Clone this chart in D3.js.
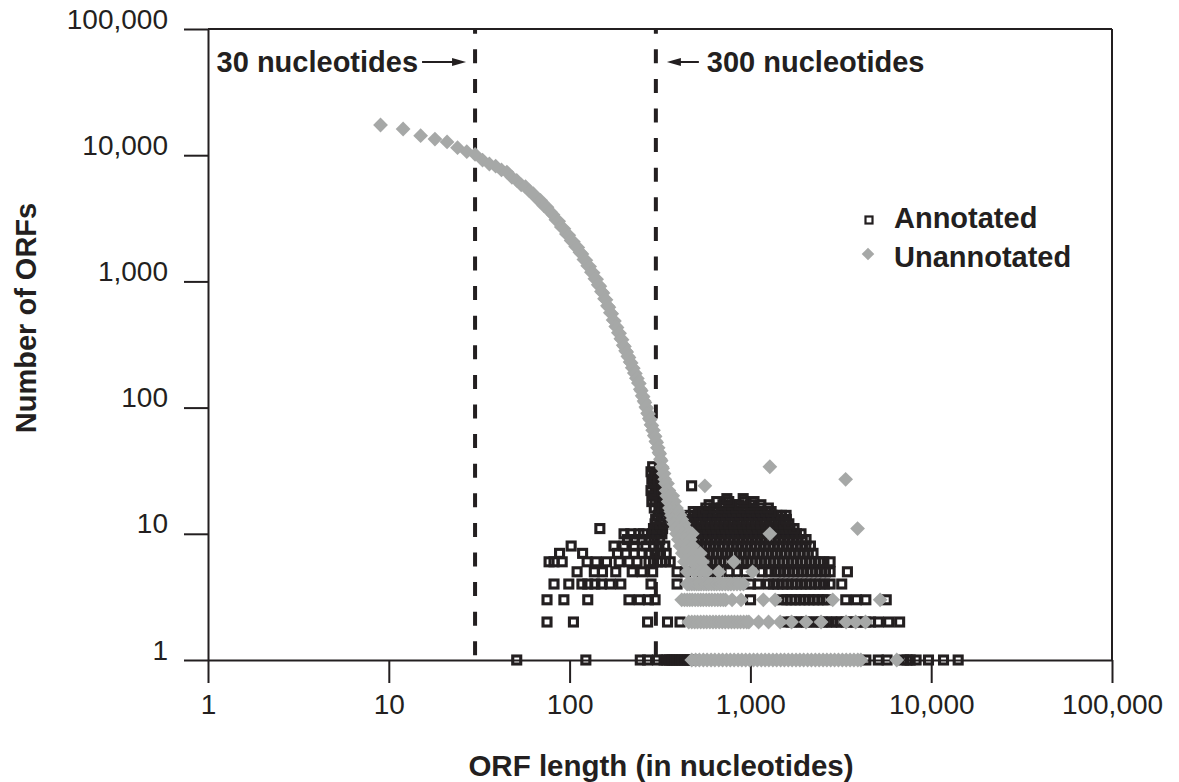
<!DOCTYPE html>
<html><head><meta charset="utf-8">
<script src="https://cdn.jsdelivr.net/npm/d3@7"></script>
<style>
body{margin:0;background:#fff}
svg{display:block}
text{font-family:"Liberation Sans",Arial,Helvetica,sans-serif}
</style>
</head><body>
<svg id="chart" width="1179" height="782"></svg>
<script>
// ---------------- data ----------------
const xTicks = [1, 10, 100, 1000, 10000, 100000];
const yTicks = [1, 10, 100, 1000, 10000, 100000];
const cutoffs = [30, 300];
const cutoffLabels = ["30 nucleotides", "300 nucleotides"];
const seriesNames = ["Annotated", "Unannotated"];
const xTitle = "ORF length (in nucleotides)";
const yTitle = "Number of ORFs";

// Unannotated ORFs: main falling curve (length, count)
const unannotatedCurveLen = [9,12,15,18,21,24,27,30,33,36,39,42,45,48,51,54,57,60,63,66,69,72,75,78,81,84,87,90,93,96,99,102,105,108,111,114,117,120,123,126,129,132,135,138,141,144,147,150,153,156,159,162,165,168,171,174,177,180,183,186,189,192,195,198,201,204,207,210,213,216,219,222,225,228,231,234,237,240,243,246,249,252,255,258,261,264,267,270,273,276,279,282,285,288,291,294,297,300,303,306,309,312,315,318,321,324,327,330];
const unannotatedCurveCount = [17350,16130,14280,13430,12730,11470,10660,10160,9150,8520,8180,7640,7350,6680,6310,5820,5640,5190,4960,4540,4390,3980,3870,3560,3380,3080,2990,2700,2610,2380,2320,2110,2060,1890,1860,1700,1650,1490,1470,1330,1310,1180,1170,1050,1040,940,915,830,810,730,715,640,625,565,555,495,485,440,432,392,388,352,345,312,305,282,276,255,250,230,226,207,205,188,186,171,170,157,155,140,136,124,122,113,110,101,99,90,89,82,80,73,72,66,66,60,59,54,53,48,48,44,43,39,38,34,33,30];
// Unannotated: scattered tail past 330 nt and outliers [length, count]
const unannotatedTail = [[333,30],[336,27],[339,25],[348,25],[342,22],[354,22],[345,20],[360,20],[372,20],[351,18],[366,18],[381,18],[357,16],[372,16],[390,16],[363,15],[381,15],[399,15],[366,14],[387,14],[408,14],[372,13],[396,13],[417,13],[378,12],[405,12],[429,12],[384,11],[414,11],[441,11],[390,10],[423,10],[453,10],[477,10],[399,9],[435,9],[465,9],[408,8],[447,8],[480,8],[420,7],[459,7],[495,7],[528,7],[432,6],[474,6],[510,6],[543,6],[447,5],[489,5],[528,5],[561,5],[560,24],[1281,34],[3363,27],[3915,11],[1281,10],[810,6],[573,5],[669,5],[1029,5]];
// Unannotated: lengths seen with exactly 4, 3, 2 and 1 ORFs
const unannotatedRow4 = [447,459,474,489,504,519,534,552,570,588,609,630,651,675,699,726,753,780,810,843,879,915];
const unannotatedRow3 = [417,432,447,462,477,495,513,531,549,570,591,612,636,660,684,708,729,792,888,1179,1371,2853,5220];
const unannotatedRow2 = [456,474,492,510,531,552,573,597,621,645,672,699,726,756,786,816,849,882,918,954,981,1110,1260,1461,1689,2031,2460,3381,3822,4332];
const unannotatedRow1 = [474,498,522,549,576,606,636,669,702,738,774,813,855,897,942,990,1041,1092,1149,1206,1266,1332,1398,1470,1542,1620,1701,1788,1878,1971,2073,2175,2286,2400,2523,2649,2781,2922,3069,3225,3387,3558,3738,3927,4083,6450];

// Annotated ORFs: lengths seen with exactly N ORFs (N = 1..14)
const annotatedRow1 = [51,123,246,270,306,333,345,357,369,381,393,408,420,435,450,465,480,4350,5100,5700,7050,7350,7650,8250,9660,11700,14100];
const annotatedRow2 = [75,105,270,348,408,1560,1680,1800,1920,2040,2190,2340,2490,2640,2820,3000,3180,3390,3600,3840,4080,4350,4620,5100,5820,6690];
const annotatedRow3 = [75,93,126,213,243,273,297,1002,1500,1590,1680,1770,1880,1990,2110,2240,2370,2520,2670,3370,3860,4350,5640];
const annotatedRow4 = [82,99,117,126,138,150,168,192,282,393,1002,1101,1260,1340,1420,1510,1600,1700,1800,1910,2030,2150,2280,2420,2570,2760,3200];
const annotatedRow5 = [110,137,152,180,222,252,288,393,438,540,600,660,762,843,939,1161,1260,1370,1450,1540,1630,1730,1830,1940,2060,2180,2310,2450,2600,2760,3440];
const annotatedRow6 = [77,82,91,125,140,160,188,213,236,275,291,306,321,339,360,540,573,606,642,681,720,762,807,855,906,960,1017,1077,1140,1209,1281,1356,1437,1521,1611,1707,1809,1917,2028,2148,2277,2412,2550,2760];
const annotatedRow7 = [88,118,184,205,228,252,275,297,318,342,522,552,585,621,657,696,738,783,828,879,930,987,1044,1107,1173,1242,1317,1395,1479,1566,1659,1758,1863,1974,2091,2220];
const annotatedRow8 = [102,176,200,228,264,291,312,336,501,531,564,597,633,672,711,753,798,846,897,951,1008,1068,1131,1200,1272,1347,1428,1512,1605,1701,1803,1911,2025,2148];
const annotatedRow9 = [209,228,252,275,294,315,480,510,540,573,606,642,681,723,765,810,858,909,963,1020,1080,1146,1215,1287,1365,1446,1533,1626,1722,1827,1935,2031];
const annotatedRow10 = [200,218,242,256,288,303,324,471,498,528,561,594,630,669,708,750,795,843,894,948,1005,1065,1128,1197,1269,1344,1425,1509,1599,1695,1797,1905];
const annotatedRow11 = [147,291,306,327,462,489,519,549,582,618,654,693,735,780,825,876,927,984,1041,1104,1170,1242,1317,1395,1479,1566,1659,1743];
const annotatedRow12 = [297,315,333,453,480,510,540,573,606,642,681,723,765,810,861,912,966,1023,1086,1152,1221,1293,1371,1452,1539,1632];
const annotatedRow13 = [300,321,450,477,507,537,570,603,639,678,720,762,807,855,906,960,1017,1080,1146,1212,1287,1362,1443,1530,1581];
const annotatedRow14 = [309,327,459,489,519,552,585,621,657,696,738,783,831,879,933,987,1047,1110,1176,1248,1323,1401,1485,1575];
// Annotated: higher counts [length, count]
const annotatedScatter = [[312,15],[336,15],[483,15],[516,15],[549,15],[585,15],[624,15],[663,15],[705,15],[750,15],[798,15],[849,15],[903,15],[960,15],[1020,15],[1086,15],[1152,15],[1224,15],[1302,15],
[315,16],[339,16],[567,16],[630,16],[690,16],[762,16],[837,16],[918,16],[1014,16],[1131,16],[1257,16],
[324,17],[591,17],[705,17],[795,17],[867,17],[1002,17],[1143,17],
[297,18],[651,18],[759,18],[921,18],[1047,18],[741,19],[912,19],
[282,31],[285,27],[288,34],[291,25],[294,28],[297,22],[300,30],[303,24],[306,20],[309,26],[312,19],[315,22],[318,17],[321,20],[324,14],[288,20],[294,16],[300,13],[282,22],[285,18],[473,24]];

// ---------------- build point lists ----------------
const annotatedRows = [annotatedRow1,annotatedRow2,annotatedRow3,annotatedRow4,annotatedRow5,annotatedRow6,annotatedRow7,annotatedRow8,annotatedRow9,annotatedRow10,annotatedRow11,annotatedRow12,annotatedRow13,annotatedRow14];
const annotated = [];
annotatedRows.forEach((row, i) => row.forEach(len => annotated.push({len, count: i + 1})));
annotatedScatter.forEach(([len, count]) => annotated.push({len, count}));

const unannotated = [];
unannotatedCurveLen.forEach((len, i) => unannotated.push({len, count: unannotatedCurveCount[i]}));
unannotatedTail.forEach(([len, count]) => unannotated.push({len, count}));
[[4, unannotatedRow4],[3, unannotatedRow3],[2, unannotatedRow2],[1, unannotatedRow1]].forEach(([c, row]) => row.forEach(len => unannotated.push({len, count: c})));

// ---------------- drawing ----------------
const INK = "#231f20", GRAY = "#a6a8a7";
const svg = d3.select("#chart");
const x = d3.scaleLog().domain([1, 100000]).range([208, 1112]);
const y = d3.scaleLog().domain([1, 100000]).range([660, 29]);

// frame: top and right
svg.append("line").attr("x1", x(1)).attr("x2", x(100000)).attr("y1", y(100000)).attr("y2", y(100000))
  .attr("stroke", INK).attr("stroke-width", 2);
svg.append("line").attr("x1", x(100000)).attr("x2", x(100000)).attr("y1", y(100000)).attr("y2", y(1))
  .attr("stroke", INK).attr("stroke-width", 2);

// x axis
const gx = svg.append("g").attr("transform", `translate(0,${y(1)})`)
  .call(d3.axisBottom(x).tickValues(xTicks).tickSize(23).tickSizeOuter(0).tickFormat(d3.format(",")));
gx.attr("font-family", null).attr("font-size", null).attr("color", INK);
gx.select(".domain").attr("stroke-width", 2);
gx.selectAll(".tick line").attr("stroke-width", 2);
gx.selectAll(".tick text").attr("y", 54).attr("dy", 0).attr("font-size", 28).attr("fill", INK);

// y axis
const gy = svg.append("g").attr("transform", `translate(${x(1)},0)`)
  .call(d3.axisLeft(y).tickValues(yTicks).tickSize(24).tickSizeOuter(0).tickFormat(d3.format(",")));
gy.attr("font-family", null).attr("font-size", null).attr("color", INK);
gy.select(".domain").attr("stroke-width", 2);
gy.selectAll(".tick line").attr("stroke-width", 2);
gy.selectAll(".tick text").attr("x", -40).attr("dy", 0).attr("y", -1).attr("font-size", 28).attr("fill", INK);

// cutoff dashed lines
svg.selectAll("line.cut").data(cutoffs).join("line").attr("class", "cut")
  .attr("x1", d => x(d)).attr("x2", d => x(d))
  .attr("y1", y(100000)).attr("y2", y(1))
  .attr("stroke", INK).attr("stroke-width", 4)
  .attr("stroke-dasharray", "14,15.6").attr("stroke-dashoffset", 9.3);

// points: annotated squares (under), unannotated diamonds (over)
const sq = 8;
svg.append("g").selectAll("rect").data(annotated).join("rect")
  .attr("x", d => x(d.len) - sq / 2).attr("y", d => y(d.count) - sq / 2)
  .attr("width", sq).attr("height", sq)
  .attr("fill", "none").attr("stroke", INK).attr("stroke-width", 3.1);

const diamond = "M0,-7.4L7.4,0L0,7.4L-7.4,0Z";
svg.append("g").selectAll("path").data(unannotated).join("path")
  .attr("d", diamond)
  .attr("transform", d => `translate(${x(d.len)},${y(d.count)})`)
  .attr("fill", GRAY);

// cutoff annotations
function arrow(x0, x1, yy) {
  const dir = Math.sign(x1 - x0);
  svg.append("line").attr("x1", x0).attr("x2", x1 - dir * 10).attr("y1", yy).attr("y2", yy)
    .attr("stroke", INK).attr("stroke-width", 2);
  svg.append("path")
    .attr("d", `M${x1},${yy}L${x1 - dir * 14},${yy - 4}L${x1 - dir * 14},${yy + 4}Z`)
    .attr("fill", INK);
}
svg.append("text").attr("x", x(cutoffs[0]) - 57).attr("y", 72).attr("text-anchor", "end")
  .attr("font-size", 29).attr("font-weight", "bold").attr("fill", INK).text(cutoffLabels[0]);
arrow(x(cutoffs[0]) - 53, x(cutoffs[0]) - 9, 62);
svg.append("text").attr("x", x(cutoffs[1]) + 51).attr("y", 72)
  .attr("font-size", 29).attr("font-weight", "bold").attr("fill", INK).text(cutoffLabels[1]);
arrow(x(cutoffs[1]) + 43, x(cutoffs[1]) + 11, 62);

// legend
const lg = svg.append("g").attr("transform", "translate(869,220)");
lg.append("rect").attr("x", -3.5).attr("y", -3.5).attr("width", 7).attr("height", 7)
  .attr("fill", "#fff").attr("stroke", INK).attr("stroke-width", 2.2);
lg.append("text").attr("x", 25).attr("y", 8).attr("font-size", 29).attr("font-weight", "bold")
  .attr("fill", INK).text(seriesNames[0]);
lg.append("path").attr("d", diamond).attr("transform", "translate(-1,34) scale(0.85)").attr("fill", GRAY);
lg.append("text").attr("x", 25).attr("y", 47).attr("font-size", 29).attr("font-weight", "bold")
  .attr("fill", INK).text(seriesNames[1]);

// axis titles
svg.append("text").attr("x", 661).attr("y", 776).attr("text-anchor", "middle")
  .attr("font-size", 29.5).attr("font-weight", "bold").attr("fill", INK).text(xTitle);
svg.append("text").attr("transform", "translate(36,318) rotate(-90)").attr("text-anchor", "middle")
  .attr("font-size", 29).attr("font-weight", "bold").attr("fill", INK).text(yTitle);
</script>
</body></html>
